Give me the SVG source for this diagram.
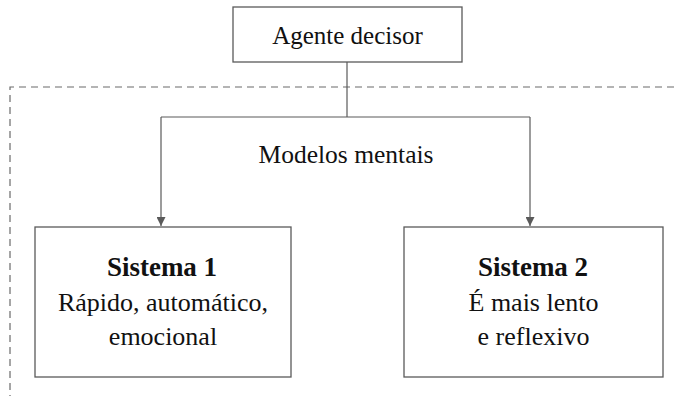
<svg xmlns="http://www.w3.org/2000/svg" width="674" height="396" viewBox="0 0 674 396">
  <defs>
    <style>
      .box { fill: #ffffff; stroke: #5a5a5a; stroke-width: 1.3; }
      .wire { fill: none; stroke: #5a5a5a; stroke-width: 1.2; }
      .frame { fill: none; stroke: #6a6a6a; stroke-width: 1.2; stroke-dasharray: 7 5; }
    </style>
    <marker id="arrow" viewBox="0 0 10 10" refX="10" refY="5" markerWidth="9" markerHeight="9" markerUnits="userSpaceOnUse" orient="auto">
      <path d="M0,0 L10,5 L0,10 z" fill="#5a5a5a"/>
    </marker>
  </defs>

  <!-- dashed boundary of the mental-models area -->
  <path class="frame" d="M674,87 H10 V396"/>

  <!-- connectors -->
  <g id="connectors">
    <path class="wire" d="M347,62 V117"/>
    <path class="wire" d="M161,117 H530"/>
    <path class="wire" d="M161,117 V226" marker-end="url(#arrow)"/>
    <path class="wire" d="M530,117 V226" marker-end="url(#arrow)"/>
  </g>

  <g id="agente-decisor">
    <rect class="box" x="233" y="7" width="229" height="55"/>
    <text x="347.5" y="44" font-family="Liberation Serif, serif" font-size="25" fill="#111111" text-anchor="middle">Agente decisor</text>
  </g>

  <g id="modelos-mentais">
    <text x="346" y="163" font-family="Liberation Serif, serif" font-size="25.5" fill="#111111" text-anchor="middle">Modelos mentais</text>
  </g>

  <g id="sistema-1">
    <rect class="box" x="35" y="227" width="256" height="150"/>
    <text x="162" y="276" font-family="Liberation Serif, serif" font-size="27" font-weight="bold" fill="#111111" text-anchor="middle">Sistema 1</text>
    <text x="163" y="311" font-family="Liberation Serif, serif" font-size="26" fill="#111111" text-anchor="middle">Rápido, automático,</text>
    <text x="163" y="345" font-family="Liberation Serif, serif" font-size="26" fill="#111111" text-anchor="middle">emocional</text>
  </g>

  <g id="sistema-2">
    <rect class="box" x="404" y="227" width="259" height="150"/>
    <text x="533" y="276" font-family="Liberation Serif, serif" font-size="27" font-weight="bold" fill="#111111" text-anchor="middle">Sistema 2</text>
    <text x="533.5" y="311" font-family="Liberation Serif, serif" font-size="26" fill="#111111" text-anchor="middle">É mais lento</text>
    <text x="533.5" y="345" font-family="Liberation Serif, serif" font-size="26" fill="#111111" text-anchor="middle">e reflexivo</text>
  </g>
</svg>
